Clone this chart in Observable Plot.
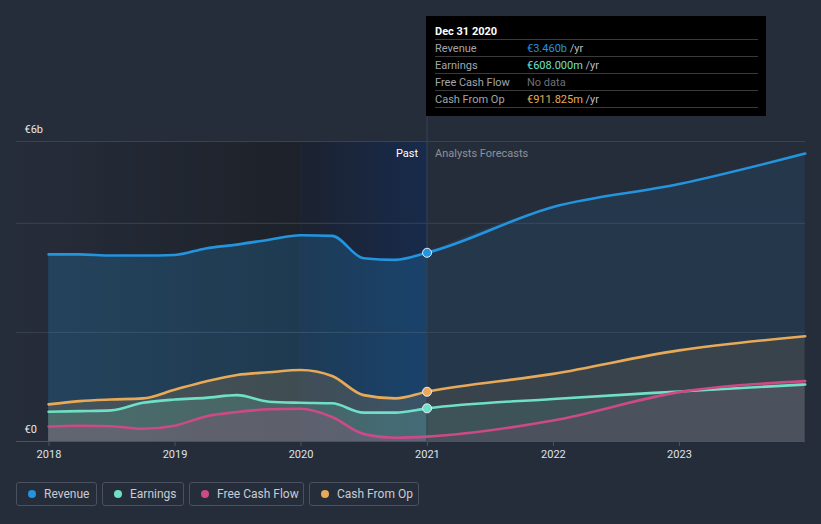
<!DOCTYPE html>
<html>
<head>
<meta charset="utf-8">
<script src="https://cdn.jsdelivr.net/npm/d3@7"></script>
<script src="https://cdn.jsdelivr.net/npm/@observablehq/plot@0.6"></script>
<style>
  html, body { margin: 0; padding: 0; background: #262d3a; }
  body { width: 821px; height: 524px; overflow: hidden; position: relative; font-family: Roboto, "Noto Sans", sans-serif; }
  #chart { position: absolute; left: 0; top: 0; }
  #chart [aria-label^="x-axis"] line, #chart [aria-label^="x-axis"] path { stroke: #4b5262; }
  #chart [aria-label^="x-axis"] text { fill: #dfe2e7; }
  .tip { position: absolute; left: 426px; top: 16px; width: 340px; height: 100px; background: #000; box-sizing: border-box; padding: 0 8px 0 9px; font-size: 11px; }
  .tip .title { color: #fff; font-weight: bold; padding-top: 8px; line-height: 16px; height: 15px; border-bottom: 1px solid #3a3a3a; }
  .tip .row { display: flex; line-height: 17px; height: 16px; border-bottom: 1px solid #3a3a3a; }
  .tip .lab { width: 92px; color: #a2a6ac; }
  .tip .unit { color: #b9bdc3; }
  .legend { position: absolute; left: 16px; top: 482px; display: flex; gap: 5px; }
  .legend .item { display: flex; align-items: center; height: 24px; box-sizing: border-box; border: 1px solid #4a505d; border-radius: 3px; padding: 0 0 0 11px; color: #c8ccd2; font-size: 12px; white-space: nowrap; }
  .legend .dot { width: 8px; height: 8px; border-radius: 50%; margin-right: 8px; flex: none; }
</style>
</head>
<body>
<div id="chart"></div>
<div class="tip">
  <div class="title">Dec 31 2020</div>
  <div class="row"><span class="lab">Revenue</span><span><span style="color:#2394df">€3.460b</span> <span class="unit">/yr</span></span></div>
  <div class="row"><span class="lab">Earnings</span><span><span style="color:#6ee2cb">€608.000m</span> <span class="unit">/yr</span></span></div>
  <div class="row"><span class="lab">Free Cash Flow</span><span style="color:#6d7178">No data</span></div>
  <div class="row"><span class="lab">Cash From Op</span><span><span style="color:#e9aa57">€911.825m</span> <span class="unit">/yr</span></span></div>
</div>
<div class="legend" id="legend"></div>
<script>
// ---- data (values in € billions) ----
const dates = ["2017-12-31","2018-03-31","2018-06-30","2018-09-30","2018-12-31","2019-03-31","2019-06-30","2019-09-30","2019-12-31","2020-03-31","2020-06-30","2020-09-30","2020-12-31","2021-12-31","2022-12-31","2023-12-31"];
const revenue  = [3.43, 3.43, 3.41, 3.41, 3.42, 3.54, 3.61, 3.70, 3.78, 3.77, 3.36, 3.33, 3.46, 4.30, 4.72, 5.28];
const earnings = [0.545, 0.556, 0.57, 0.71, 0.77, 0.80, 0.85, 0.73, 0.71, 0.70, 0.53, 0.53, 0.608, 0.78, 0.917, 1.046];
const freeCashFlow = [0.275, 0.29, 0.28, 0.235, 0.29, 0.46, 0.54, 0.59, 0.60, 0.45, 0.14, 0.07, 0.09, 0.385, 0.905, 1.106];
const cashFromOp = [0.68, 0.74, 0.77, 0.79, 0.95, 1.10, 1.22, 1.27, 1.31, 1.20, 0.85, 0.79, 0.912, 1.24, 1.67, 1.93];
const seriesNames = ["Revenue", "Earnings", "Free Cash Flow", "Cash From Op"];
const seriesColors = ["#2394df", "#6fe0c6", "#cc4a86", "#e8aa58"];
const legendWidths = [81, 82, 115, 110];
const tickYears = [2018, 2019, 2020, 2021, 2022, 2023];
const nowDate = "2020-12-31";
const pastStart = "2020-01-01";
const xStart = "2017-09-29", xEnd = "2024-01-01";
const yTopLabel = 5.5;   // value of top gridline (labelled €6b)
const yGrid = [2, 4];

// ---- build table ----
const valuesBy = {"Revenue": revenue, "Earnings": earnings, "Free Cash Flow": freeCashFlow, "Cash From Op": cashFromOp};
const now = new Date(nowDate);
const rows = [];
for (const name of seriesNames) {
  valuesBy[name].forEach((v, i) => rows.push({series: name, date: new Date(dates[i]), value: v}));
}
const past = rows.filter(d => d.date <= now);
const future = rows.filter(d => d.date >= now);
const nowDots = rows.filter(d => +d.date === +now && d.series !== "Free Cash Flow");
const colorOf = Object.fromEntries(seriesNames.map((s, i) => [s, seriesColors[i]]));
const drawOrder = ["Revenue", "Cash From Op", "Earnings", "Free Cash Flow"];

const height = 470, marginTop = 116, marginBottom = 29;
const plotTopPx = 141; // pixel of top gridline
const yMax = yTopLabel * (height - marginBottom - marginTop) / (height - marginBottom - plotTopPx);

const marks = [
  Plot.rect([{x1: new Date(xStart), x2: new Date(pastStart), y1: 0, y2: yTopLabel}], {x1: "x1", x2: "x2", y1: "y1", y2: "y2", fill: "url(#pastGrad)"}),
  Plot.rect([{x1: new Date(pastStart), x2: now, y1: 0, y2: yTopLabel}], {x1: "x1", x2: "x2", y1: "y1", y2: "y2", fill: "url(#lastGrad)"}),
  Plot.ruleY([...yGrid, yTopLabel], {stroke: "#3a4150", strokeWidth: 1}),
];
for (const s of drawOrder) {
  marks.push(Plot.areaY(past.filter(d => d.series === s), {x: "date", y: "value", fill: colorOf[s], fillOpacity: s === "Revenue" ? 0.22 : 0.17, curve: "monotone-x"}));
  marks.push(Plot.areaY(future.filter(d => d.series === s), {x: "date", y: "value", fill: colorOf[s], fillOpacity: s === "Revenue" ? 0.11 : 0.1, curve: "monotone-x"}));
}
marks.push(
  Plot.ruleY([0], {stroke: "#4b5262"}),
  Plot.ruleX([now], {stroke: "#34435c", strokeWidth: 1}),
);
for (const s of drawOrder) {
  marks.push(Plot.line(rows.filter(d => d.series === s), {x: "date", y: "value", stroke: colorOf[s], strokeWidth: 2.6, curve: "monotone-x"}));
}
marks.push(
  Plot.dot(nowDots, {x: "date", y: "value", fill: d => colorOf[d.series], stroke: "#e8eef5", strokeWidth: 1, r: 4.5}),
  Plot.text(["Past"], {x: now, y: yTopLabel, dx: -9, dy: 12, text: d => d, textAnchor: "end", fill: "#ffffff", fontSize: 11}),
  Plot.text(["Analysts Forecasts"], {x: now, y: yTopLabel, dx: 8, dy: 12, text: d => d, textAnchor: "start", fill: "#8d929b", fontSize: 11}),
  Plot.text(["€6b"], {x: new Date(xStart), y: yTopLabel, dx: 8, dy: -12, text: d => d, textAnchor: "start", fill: "#e6e8eb", fontSize: 11}),
  Plot.text(["€0"], {x: new Date(xStart), y: 0, dx: 8, dy: -12, text: d => d, textAnchor: "start", fill: "#e6e8eb", fontSize: 11}),
);

const svg = Plot.plot({
  width: 821,
  height,
  marginLeft: 16,
  marginRight: 16,
  marginTop,
  marginBottom,
  style: {background: "transparent", color: "#dfe2e7", fontFamily: "Roboto, sans-serif", fontSize: "11px"},
  x: {type: "utc", domain: [new Date(xStart), new Date(xEnd)], ticks: tickYears.map(y => new Date(Date.UTC(y, 0, 1))), tickFormat: d3.utcFormat("%Y"), tickSize: 5, tickPadding: 4, label: null},
  y: {domain: [0, yMax], axis: null},
  marks
});

const defs = d3.select(svg).insert("defs", ":first-child");
const g1 = defs.append("linearGradient").attr("id", "pastGrad").attr("x1", 0).attr("x2", 1).attr("y1", 0).attr("y2", 0);
g1.append("stop").attr("offset", 0).attr("stop-color", "#262d3a");
g1.append("stop").attr("offset", 1).attr("stop-color", "#1d2129");
const g2 = defs.append("linearGradient").attr("id", "lastGrad").attr("x1", 0).attr("x2", 1).attr("y1", 0).attr("y2", 0);
g2.append("stop").attr("offset", 0).attr("stop-color", "#1c2230");
g2.append("stop").attr("offset", 1).attr("stop-color", "#172b4b");

document.getElementById("chart").appendChild(svg);

const legend = document.getElementById("legend");
seriesNames.forEach((s, i) => {
  const item = document.createElement("div");
  item.className = "item";
  item.style.width = legendWidths[i] + "px";
  item.innerHTML = `<span class="dot" style="background:${seriesColors[i]}"></span><span>${s}</span>`;
  legend.appendChild(item);
});
</script>
</body>
</html>
